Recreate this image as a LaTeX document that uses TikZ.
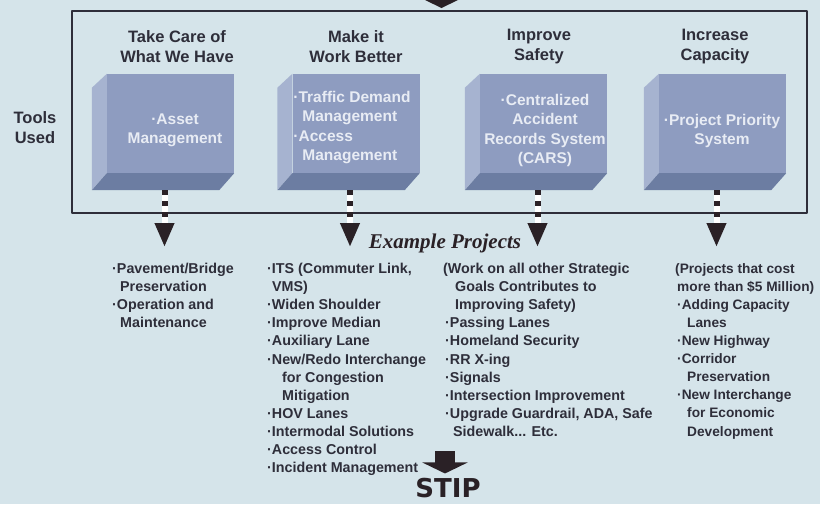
\documentclass[tikz,border=0pt]{standalone}
\usepackage{fontspec}
\setmainfont{Liberation Sans}
\newfontfamily\serifbi{Liberation Serif}
\newfontfamily\stipfont{DejaVu Sans}
\usetikzlibrary{arrows.meta,calc}
\definecolor{bgcol}{HTML}{D5E4EA}
\definecolor{frontcol}{HTML}{8E9CC0}
\definecolor{sidecol}{HTML}{A6B3D0}
\definecolor{basecol}{HTML}{6C7DA2}
\definecolor{inkcol}{HTML}{2E2E3A}
\definecolor{boxink}{HTML}{E8ECF4}
\definecolor{arrcol}{HTML}{2A2126}
\begin{document}
\begin{tikzpicture}[x=1pt,y=-1pt,line join=round,
  toolbox/.style={fill=frontcol,minimum width=127pt,minimum height=99pt,inner sep=0pt},
  ttl/.style={text=inkcol,align=center,inner sep=0pt,font=\fontsize{16.5}{20}\selectfont\bfseries},
  boxtxt/.style={text=boxink,inner sep=0pt,font=\fontsize{15.5}{19.5}\selectfont\bfseries},
  lst/.style={text=inkcol,align=left,anchor=north west,inner sep=0pt,font=\fontsize{14.3}{18.1}\selectfont\bfseries},
  shaft/.style={line width=6pt,arrcol,dash pattern=on 5pt off 6pt,-{Triangle[width=18pt,length=24pt]}}]
	\fill[bgcol] (0,0) rectangle (820,504);
	\useasboundingbox (0,0) rectangle (820,504);
	% arrow coming in from above
	\fill[arrcol] (425,0)--(458,0)--(441.5,8)--cycle;
	\draw[inkcol,line width=2pt] (72,11) rectangle (807,213);
	\node[ttl] (tools) at (35,127.5) {Tools\\Used};
	\foreach \n/\cx/\tx/\lx/\ly/\al/\ttext/\btext in {
		1/170.5/177/175/130.5/center/{Take Care of\\What We Have}/{·Asset\\Management},
		2/356/356/352/127.5/left/{Make it\\Work Better}/{·Traffic Demand\\\hspace*{9pt}Management\\·Access\\\hspace*{9pt}Management},
		3/543.5/539/545/130.5/center/{Improve\\Safety}/{·Centralized\\Accident\\Records System\\(CARS)},
		4/722.5/715/722/131/center/{Increase\\Capacity}/{·Project Priority\\System}}
	{
		\node[toolbox] (b\n) at (\cx,123.5) {};
		\fill[sidecol] (b\n.north west)--++(-15,14)--++(0,102)--(b\n.south west)--cycle;
		\fill[basecol] (b\n.south west)--(b\n.south east)--++(-15,17)--($(b\n.south west)+(-15,17)$)--cycle;
		\node[boxtxt,align=\al] (l\n) at (\lx,\ly) {\btext};
		\node[ttl] (t\n) at (\tx,47) {\ttext};
		\coordinate (s\n) at ($(b\n.south)+(-6,17)$);
		\coordinate (e\n) at ($(b\n.south)+(-6,74)$);
		\draw[line width=6pt,white] (s\n)--($(e\n)+(0,-24)$);
		\draw[shaft] (s\n)--(e\n);
	}
	\node[text=arrcol,font=\serifbi\fontsize{21}{24}\selectfont\bfseries\itshape] (ex) at (445,243) {Example Projects};
	\node[lst] (p1) at (112,263) {·Pavement/Bridge\\\hspace*{8pt}Preservation\\·Operation and\\\hspace*{8pt}Maintenance};
	\node[lst] (p2) at (267,263) {·ITS (Commuter Link,\\\hspace*{5pt}VMS)\\·Widen Shoulder\\·Improve Median\\·Auxiliary Lane\\·New/Redo Interchange\\\hspace*{15pt}for Congestion\\\hspace*{15pt}Mitigation\\·HOV Lanes\\·Intermodal Solutions\\·Access Control\\·Incident Management};
	\node[lst] (p3) at (443,263) {(Work on all other Strategic\\\hspace*{12pt}Goals Contributes to\\\hspace*{12pt}Improving Safety)\\\hspace*{2pt}·Passing Lanes\\\hspace*{2pt}·Homeland Security\\\hspace*{2pt}·RR X-ing\\\hspace*{2pt}·Signals\\\hspace*{2pt}·Intersection Improvement\\\hspace*{2pt}·Upgrade Guardrail, ADA, Safe\\\hspace*{10pt}Sidewalk... Etc.};
	\node[lst,font=\fontsize{13.7}{18.1}\selectfont\bfseries] (p4) at (675,263) {(Projects that cost\\\hspace*{2pt}more than \$5 Million)\\\hspace*{2pt}·Adding Capacity\\\hspace*{12pt}Lanes\\\hspace*{2pt}·New Highway\\\hspace*{2pt}·Corridor\\\hspace*{12pt}Preservation\\\hspace*{2pt}·New Interchange\\\hspace*{12pt}for Economic\\\hspace*{12pt}Development};
	\node[text=arrcol,inner sep=0pt,font=\stipfont\fontsize{26}{30}\selectfont\bfseries] (stip) at (448,488.5) {STIP};
	\draw[arrcol,line width=20pt,-{Triangle[width=45pt,length=11pt]}] ($(stip.north)+(-3,-27)$)--($(stip.north)+(-3,-5)$);
\end{tikzpicture}
\end{document}
